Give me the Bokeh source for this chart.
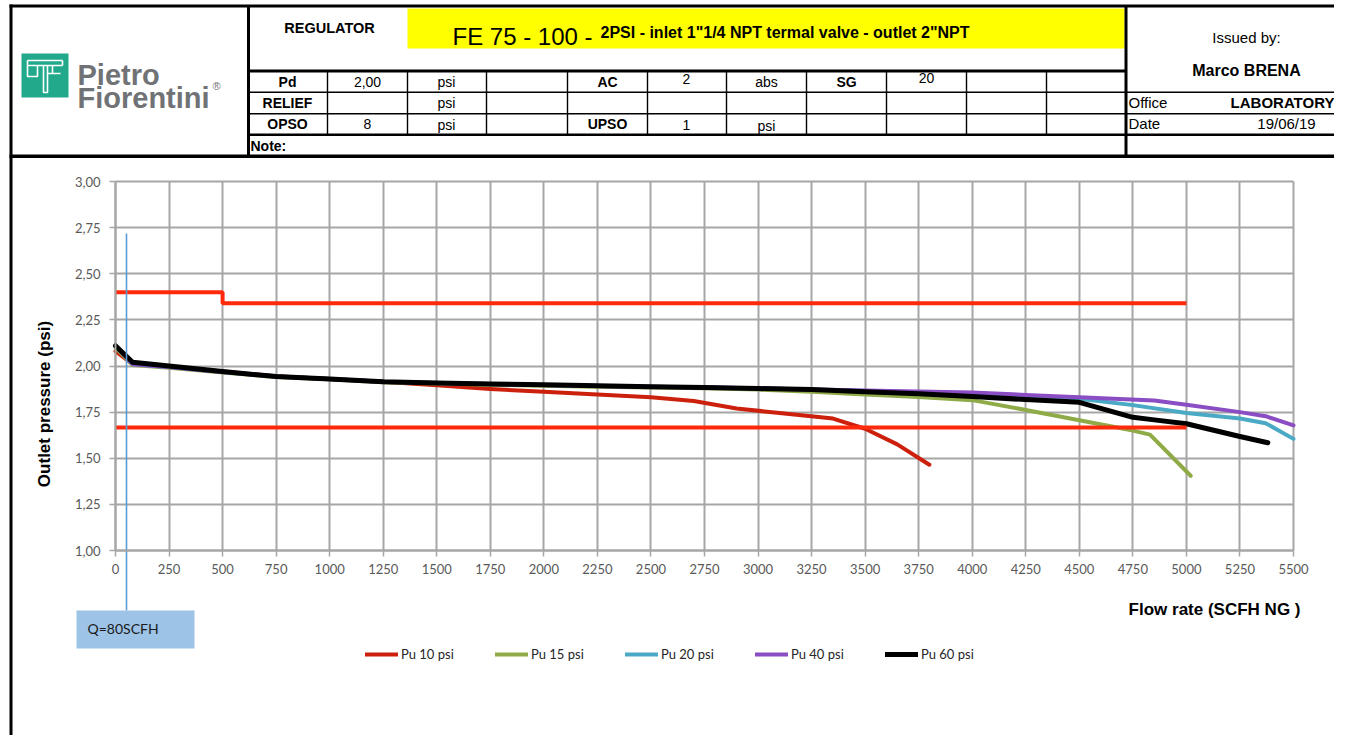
from math import pi
from bokeh.plotting import figure
from bokeh.models import Range1d, FixedTicker, Legend, LegendItem, ColumnDataSource
from bokeh.core.properties import value
from bokeh.embed import file_html
from bokeh.resources import INLINE

# ---------------- data ----------------
PU10_X = [0, 80, 250, 500, 750, 1000, 1250, 1500, 1750, 2000, 2250, 2500, 2700, 2900, 3100, 3350, 3500, 3650, 3800]
PU10_Y = [2.08, 2.01, 1.995, 1.97, 1.945, 1.93, 1.915, 1.895, 1.875, 1.86, 1.845, 1.83, 1.81, 1.77, 1.745, 1.715, 1.66, 1.575, 1.465]

PU15_X = [0, 80, 250, 500, 750, 1000, 1250, 1500, 1750, 2000, 2250, 2500, 2750, 3000, 3250, 3500, 3750, 4000, 4250, 4500, 4750, 4830, 5020]
PU15_Y = [2.10, 2.005, 1.99, 1.965, 1.94, 1.928, 1.912, 1.905, 1.898, 1.893, 1.888, 1.884, 1.879, 1.872, 1.86, 1.845, 1.832, 1.815, 1.762, 1.706, 1.65, 1.628, 1.405]

PU20_X = [0, 80, 250, 500, 750, 1000, 1250, 1500, 1750, 2000, 2250, 2500, 2750, 3000, 3250, 3500, 3750, 4000, 4250, 4500, 4750, 5000, 5250, 5370, 5500]
PU20_Y = [2.11, 2.01, 1.995, 1.968, 1.943, 1.93, 1.915, 1.908, 1.902, 1.897, 1.892, 1.887, 1.883, 1.878, 1.872, 1.864, 1.857, 1.849, 1.836, 1.822, 1.788, 1.745, 1.715, 1.69, 1.605]

PU40_X = [0, 80, 250, 500, 750, 1000, 1250, 1500, 1750, 2000, 2250, 2500, 2750, 3000, 3250, 3500, 3750, 4000, 4250, 4500, 4850, 5000, 5250, 5370, 5500]
PU40_Y = [2.11, 2.01, 1.995, 1.968, 1.943, 1.93, 1.915, 1.908, 1.902, 1.897, 1.892, 1.887, 1.883, 1.879, 1.873, 1.867, 1.862, 1.856, 1.843, 1.831, 1.813, 1.79, 1.75, 1.728, 1.678]

PU60_X = [0, 80, 250, 500, 750, 1000, 1250, 1500, 1750, 2000, 2250, 2500, 2750, 3000, 3250, 3500, 3750, 4000, 4250, 4500, 4750, 4850, 5000, 5250, 5380]
PU60_Y = [2.11, 2.02, 2.0, 1.97, 1.943, 1.93, 1.915, 1.908, 1.902, 1.898, 1.893, 1.888, 1.884, 1.878, 1.872, 1.86, 1.85, 1.835, 1.818, 1.803, 1.722, 1.708, 1.687, 1.618, 1.584]

UPPER_X = [0, 500, 500, 5000]
UPPER_Y = [2.40, 2.40, 2.34, 2.34]
LOWER_X = [0, 5000]
LOWER_Y = [1.667, 1.667]

SERIES_NAMES = ["Pu 10 psi", "Pu 15 psi", "Pu 20 psi", "Pu 40 psi", "Pu 60 psi"]
SERIES_COLORS = ["#cc1f0c", "#8fab48", "#4aaac6", "#8a4dc4", "#000000"]

X_TICKS = [0, 250, 500, 750, 1000, 1250, 1500, 1750, 2000, 2250, 2500, 2750,
           3000, 3250, 3500, 3750, 4000, 4250, 4500, 4750, 5000, 5250, 5500]
Y_TICKS = [1.0, 1.25, 1.5, 1.75, 2.0, 2.25, 2.5, 2.75, 3.0]
Y_TICK_LABELS = ["1,00", "1,25", "1,50", "1,75", "2,00", "2,25", "2,50", "2,75", "3,00"]

# ---------------- page geometry ----------------
W, H = 1334, 735
PAGE_L, PAGE_T = 0, 0
CH_L, CH_R, CH_T, CH_B = 115, 1293, 181, 550   # chart area in picture pixels
X0, X1 = X_TICKS[0], X_TICKS[-1]
Y0, Y1 = Y_TICKS[0], Y_TICKS[-1]


def fx(px):
    return X0 + (px - CH_L) * (X1 - X0) / (CH_R - CH_L)


def fy(py):
    return Y0 + (CH_B - py) * (Y1 - Y0) / (CH_B - CH_T)


AR = "Liberation Sans"

p = figure(width=W, height=H,
           x_range=Range1d(fx(PAGE_L), fx(PAGE_L + W)),
           y_range=Range1d(fy(PAGE_T + H), fy(PAGE_T)),
           output_backend="svg", toolbar_location=None, min_border=0)
p.background_fill_color = "white"
p.border_fill_color = "white"
p.outline_line_color = None

GRID = "#a6a6a6"

grid_ok = True
try:
    p.xgrid.cross_bounds = (Y0, Y1)
    p.ygrid.cross_bounds = (X0, X1)
    p.xgrid.bounds = (X0, X1)
    p.ygrid.bounds = (Y0, Y1)
except Exception:
    grid_ok = False
if grid_ok:
    p.xgrid.ticker = FixedTicker(ticks=X_TICKS)
    p.ygrid.ticker = FixedTicker(ticks=Y_TICKS)
    for g in (p.xgrid, p.ygrid):
        g.grid_line_color = GRID
        g.grid_line_width = 2
else:
    p.xgrid.visible = False
    p.ygrid.visible = False
    p.segment(x0=X_TICKS, x1=X_TICKS, y0=[Y0] * len(X_TICKS), y1=[Y1] * len(X_TICKS),
              line_color=GRID, line_width=2)
    p.segment(x0=[X0] * len(Y_TICKS), x1=[X1] * len(Y_TICKS), y0=Y_TICKS, y1=Y_TICKS,
              line_color=GRID, line_width=2)

p.xaxis.fixed_location = Y0
p.yaxis.fixed_location = X0
p.xaxis.bounds = (X0, X1)
p.yaxis.bounds = (Y0, Y1)
p.xaxis.ticker = FixedTicker(ticks=X_TICKS)
p.yaxis.ticker = FixedTicker(ticks=Y_TICKS)
p.yaxis.major_label_overrides = {t: l for t, l in zip(Y_TICKS, Y_TICK_LABELS)}
p.xaxis.major_label_overrides = {t: str(t) for t in X_TICKS}
for ax in (p.xaxis, p.yaxis):
    ax.axis_line_color = GRID
    ax.axis_line_width = 2
    ax.major_tick_line_color = GRID
    ax.major_tick_line_width = 1.5
    ax.major_tick_in = 0
    ax.major_tick_out = 6
    ax.minor_tick_line_color = None
    ax.major_label_text_font = "Lato"
    ax.major_label_text_font_size = "13px"
    ax.major_label_text_color = "#595959"
p.yaxis.major_label_standoff = 9
p.xaxis.major_label_standoff = 7

# ---------------- header ----------------
p.quad(left=[fx(407)], right=[fx(1124)], top=[fy(8)], bottom=[fy(48)],
       fill_color="#ffff00", line_color=None)

# logo
p.quad(left=[fx(21)], right=[fx(68)], top=[fy(53)], bottom=[fy(97)], fill_color="#22a98b", line_color=None)
LOGO_XS = [[27, 62], [27, 62], [27, 27, 37, 37], [43, 43, 47, 47], [47, 60], [62, 62], [52, 52]]
LOGO_YS = [[60, 60], [65, 65], [60, 76, 76, 65], [65, 92, 92, 65], [73, 73], [60, 65], [65, 73]]
p.multi_line(xs=[[fx(v) for v in a] for a in LOGO_XS], ys=[[fy(v) for v in a] for a in LOGO_YS],
             line_color="white", line_width=1.6)
p.text(x=[fx(77), fx(77)], y=[fy(74), fy(97)], text=["Pietro", "Fiorentini"], text_font=value(AR),
       text_font_size="29px", text_font_style="bold", text_color="#707275",
       text_baseline="alphabetic", text_align="left")
p.text(x=[fx(212)], y=[fy(85)], text=["®"], text_font=value(AR), text_font_size="11px",
       text_color="#707275", text_baseline="alphabetic")

# borders / table lines: left, right, top, bottom (picture pixels)
LN = [
    (9, 1342, 4, 7), (9, 12, 4, 751), (246.5, 249.5, 5, 157), (1124, 1127, 5, 157),
    (248, 1125, 69, 72), (248, 1342, 91, 92.5), (248, 1342, 112.5, 114),
    (248, 1342, 133, 135.5), (9, 1342, 154, 157.5),
]
TBL_COLS = [327, 407, 486, 567, 647, 726, 806, 886, 966, 1046]
p.quad(left=[fx(a) for a, b, c, d in LN], right=[fx(b) for a, b, c, d in LN],
       top=[fy(c) for a, b, c, d in LN], bottom=[fy(d) for a, b, c, d in LN],
       fill_color="black", line_color=None)
p.quad(left=[fx(c - 0.7) for c in TBL_COLS], right=[fx(c + 0.7) for c in TBL_COLS],
       top=[fy(71)] * len(TBL_COLS), bottom=[fy(134)] * len(TBL_COLS), fill_color="black", line_color=None)

HX = [329, 287, 367, 446, 607, 686, 766, 846, 926, 287, 446, 287, 367, 446, 607, 686, 766,
      1246, 1246, 1282, 1286, 250, 1128, 1128]
HY = [27, 81, 81, 81, 81, 78, 81, 81, 77, 102, 102, 123, 123, 124, 123, 124, 125,
      37, 70, 102, 123, 145, 102, 123]
txt = ColumnDataSource(dict(
    x=[fx(v) for v in HX],
    y=[fy(v) for v in HY],
    text=["REGULATOR", "Pd", "2,00", "psi", "AC", "2", "abs", "SG", "20", "RELIEF", "psi",
          "OPSO", "8", "psi", "UPSO", "1", "psi", "Issued by:", "Marco BRENA", "LABORATORY",
          "19/06/19", "Note:", "Office", "Date"],
    size=["14.5px"] + ["14px"] * 16 + ["15px", "16px", "15px", "15px", "14px", "15px", "15px"],
    style=["bold", "bold", "normal", "normal", "bold", "normal", "normal", "bold", "normal",
           "bold", "normal", "bold", "normal", "normal", "bold", "normal", "normal",
           "normal", "bold", "bold", "normal", "bold", "normal", "normal"],
    align=["center"] * 21 + ["left"] * 3,
))
p.text(x="x", y="y", text="text", source=txt, text_font=value(AR), text_font_size="size",
       text_font_style="style", text_align="align", text_baseline="middle", text_color="black")
p.text(x=[fx(452)], y=[fy(36)], text=["FE 75 - 100 -"], text_font=value(AR), text_font_size="24px",
       text_baseline="alphabetic", text_color="black")
p.text(x=[fx(600)], y=[fy(32)], text=['2PSI - inlet 1"1/4 NPT termal valve - outlet 2"NPT'],
       text_font=value(AR), text_font_size="16px", text_font_style="bold",
       text_baseline="alphabetic", text_color="black")

# ---------------- chart series ----------------
renderers = []
for xs, ys, col, lw in [(PU10_X, PU10_Y, SERIES_COLORS[0], 4), (PU15_X, PU15_Y, SERIES_COLORS[1], 4),
                        (PU20_X, PU20_Y, SERIES_COLORS[2], 4), (PU40_X, PU40_Y, SERIES_COLORS[3], 4),
                        (PU60_X, PU60_Y, SERIES_COLORS[4], 5)]:
    r = p.line(xs, ys, line_color=col, line_width=lw, line_join="round", line_cap="round")
    renderers.append(r)

p.line(UPPER_X, UPPER_Y, line_color="#ff2a0c", line_width=4)
p.line(LOWER_X, LOWER_Y, line_color="#ff2a0c", line_width=4)

# Q marker line and callout box
p.quad(left=[fx(125.2)], right=[fx(126.8)], top=[fy(233)], bottom=[fy(610)],
       fill_color="#5b9bd5", line_color=None)
p.quad(left=[fx(76)], right=[fx(194)], top=[fy(610)], bottom=[fy(648)],
       fill_color="#9dc3e6", line_color=None)
p.text(x=[fx(87)], y=[fy(628)], text=["Q=80SCFH"], text_font=value("Lato"), text_font_size="14px",
       text_color="#1a1a1a", text_baseline="middle", text_align="left")

# axis titles
p.text(x=[fx(1300)], y=[fy(609)], text=["Flow rate (SCFH NG )"], text_font=value(AR),
       text_font_size="17px", text_font_style="bold", text_color="black",
       text_baseline="middle", text_align="right")
p.text(x=[fx(43.5)], y=[fy(403.5)], text=["Outlet pressure (psi)"], angle=pi / 2,
       text_font=value(AR), text_font_size="17px", text_font_style="bold", text_color="black",
       text_baseline="middle", text_align="center")

legend = Legend(items=[LegendItem(label=n, renderers=[r]) for n, r in zip(SERIES_NAMES, renderers)],
                location=(365 - PAGE_L, (PAGE_T + H) - 655 - 7), orientation="horizontal",
                glyph_width=33, glyph_height=14,
                label_standoff=3, label_width=94, spacing=0, padding=0, margin=0,
                border_line_color=None, background_fill_alpha=0,
                label_text_font="Lato", label_text_font_size="13px", label_text_color="#262626")
p.add_layout(legend)

open("out.html", "w").write(file_html(p, INLINE))
